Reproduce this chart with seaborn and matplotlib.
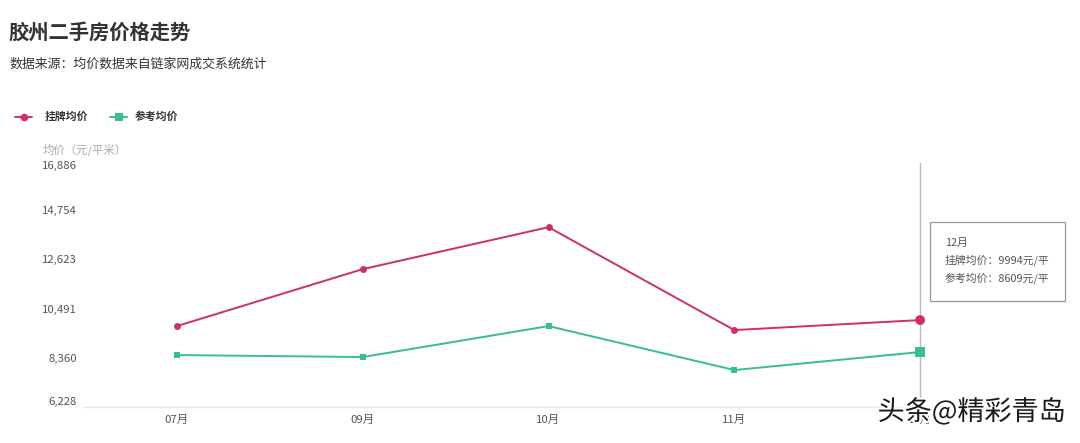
import matplotlib
matplotlib.use("Agg")
import matplotlib.pyplot as plt
import matplotlib.patheffects as pe
import seaborn as sns
import pandas as pd
from matplotlib.patches import Rectangle

months = ["07月", "09月", "10月", "11月", "12月"]
listing = [9734, 12201, 14018, 9561, 9994]
reference = [8479, 8392, 9734, 7829, 8609]
series_names = ["挂牌均价", "参考均价"]
y_ticks = [6228, 8360, 10491, 12623, 14754, 16886]
y_tick_labels = ["6,228", "8,360", "10,491", "12,623", "14,754", "16,886"]

RED = "#cf2f65"
GREEN = "#35c08c"

sns.set_theme(style="white")
plt.rcParams['font.family'] = ['Noto Sans CJK SC', 'DejaVu Sans']

df = pd.DataFrame({
    "month": months * 2,
    "price": listing + reference,
    "series": [series_names[0]] * len(months) + [series_names[1]] * len(months),
})
df["x"] = list(range(len(months))) * 2

fig = plt.figure(figsize=(10.8, 4.43), dpi=100)
ax = fig.add_axes([84/1080, 1 - 407/443, (1013-84)/1080, (407-161)/443])

sns.lineplot(data=df, x="x", y="price", hue="series", style="series",
             markers={series_names[0]: "o", series_names[1]: "s"}, dashes=False,
             palette={series_names[0]: RED, series_names[1]: GREEN},
             markersize=5, markeredgewidth=0, linewidth=1.4, ax=ax, legend=False)

last = df[df["month"] == months[-1]]
sns.scatterplot(data=last, x="x", y="price", hue="series", style="series",
                markers={series_names[0]: "o", series_names[1]: "s"},
                palette={series_names[0]: RED, series_names[1]: GREEN},
                s=50, linewidth=0, ax=ax, legend=False, zorder=5)

ax.set_xlim(-0.5, len(months) - 0.5)
ax.set_ylim(y_ticks[0], y_ticks[-1])
ax.set_xticks(range(len(months)))
ax.set_xticklabels(months)
ax.set_yticks(y_ticks)
ax.set_yticklabels(y_tick_labels)
ax.set_xlabel("")
ax.set_ylabel("")
for s in ["top", "right", "left"]:
    ax.spines[s].set_visible(False)
ax.spines["bottom"].set_color("#e8e8e8")
ax.spines["bottom"].set_linewidth(1)
ax.tick_params(axis="both", length=0, labelsize=8.2, labelcolor="#555555")
ax.tick_params(axis="y", pad=5)
ax.tick_params(axis="x", pad=6)
ylabels = ax.get_yticklabels()
ylabels[0].set_va("bottom")
ylabels[-1].set_va("top")

# hover guide line
ax.axvline(len(months) - 1, color="#bbbbbb", linewidth=1, ymax=0.99, zorder=1)

# titles
fig.text(9/1080, 1 - 32/443, "胶州二手房价格走势", fontsize=14.6, fontweight="bold",
         color="#333333", va="center", ha="left")
fig.text(9/1080, 1 - 64/443, "数据来源：均价数据来自链家网成交系统统计", fontsize=9.3,
         color="#333333", va="center", ha="left")
fig.text(43/1080, 1 - 150/443, "均价（元/平米）", fontsize=8.2, color="#aaaaaa",
         va="center", ha="left")

# legend
ly = 1 - 117/443
for x0, tx, col, mk, name in [(15, 45, RED, "o", series_names[0]),
                              (110, 135, GREEN, "s", series_names[1])]:
    fig.add_artist(plt.Line2D([x0/1080, (x0+17)/1080], [ly, ly], color=col, linewidth=1.4,
                              transform=fig.transFigure))
    fig.add_artist(plt.Line2D([(x0+8.5)/1080], [ly], color=col, marker=mk, markersize=5.5,
                              markeredgewidth=0, transform=fig.transFigure))
    fig.text(tx/1080, ly, name, fontsize=7.8, fontweight="bold", color="#333333",
             va="center", ha="left")

# tooltip
fig.add_artist(Rectangle((930/1080, 1 - 301/443), 135/1080, 79/443, transform=fig.transFigure,
                         facecolor="white", edgecolor="#999999", linewidth=0.9, zorder=10))
tt = [months[-1],
      f"{series_names[0]}：{listing[-1]}元/平",
      f"{series_names[1]}：{reference[-1]}元/平"]
for i, t in enumerate(tt):
    fig.text(945/1080, 1 - (243 + 17.5*i)/443, t, fontsize=7.8, color="#555555",
             va="center", ha="left", zorder=11)

# watermark
fig.text(1066/1080, 1 - 412/443, "头条@精彩青岛", fontsize=19.5, color="#1a1a1a",
         va="center", ha="right", zorder=12,
         path_effects=[pe.withStroke(linewidth=3, foreground="white")])

fig.savefig("out.png", dpi=100, facecolor="white")
